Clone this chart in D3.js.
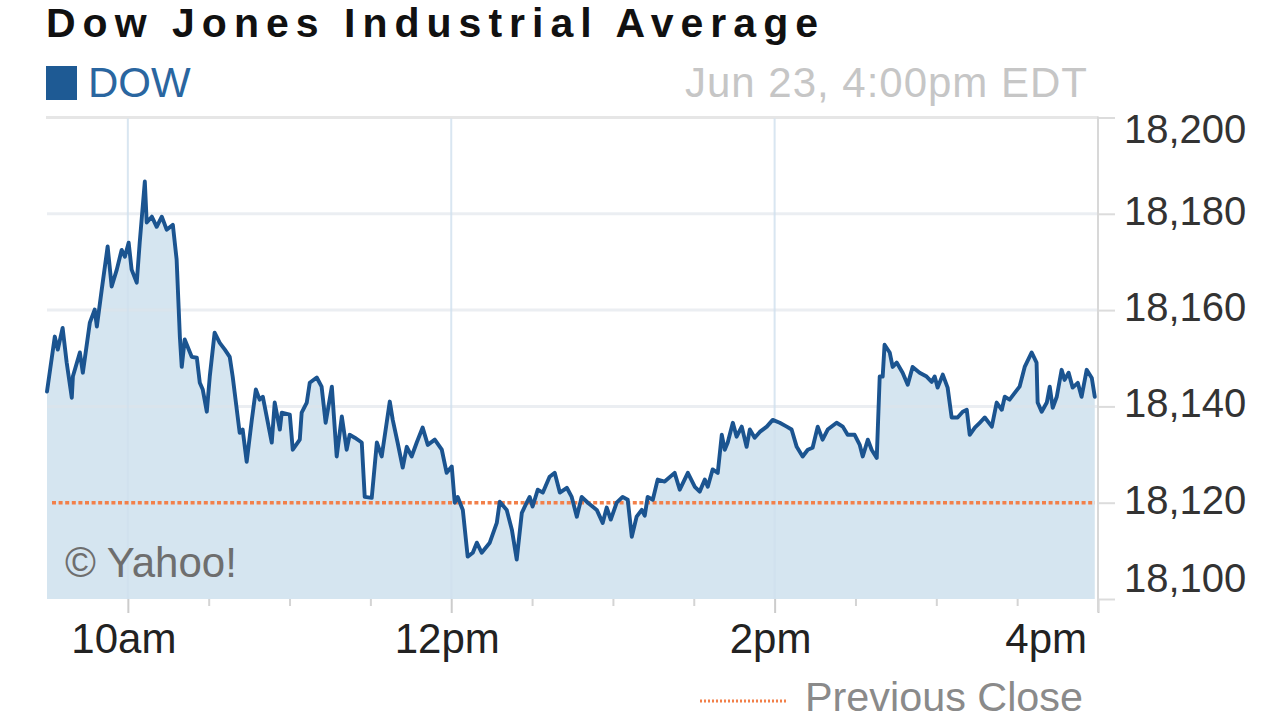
<!DOCTYPE html>
<html><head><meta charset="utf-8">
<script src="https://cdn.jsdelivr.net/npm/d3@7"></script>
<style>
html,body{margin:0;padding:0;background:#fff;}
svg{display:block;font-family:"Liberation Sans",Arial,Helvetica,sans-serif;}
</style>
</head><body>
<svg id="chart" width="1280" height="720"></svg>
<script>
// ---- Data ----
const minutesAfterOpen = [
  0,2.9,4.0,5.8,7.3,9.2,9.6,12.2,13.3,15.9,17.7,18.5,20.3,22.5,24.0,25.9,27.7,28.9,30.3,31.4,33.3,34.4,
  36.3,37.0,38.9,40.7,42.6,44.4,46.7,48.1,49.3,50.0,51.1,53.7,55.6,56.7,57.8,59.3,60.4,62.2,64.1,66.0,
  67.8,68.9,71.5,72.6,74.1,76.0,77.5,78.9,80.1,83.4,84.5,86.4,87.1,90.1,91.2,93.8,94.5,96.4,97.5,100.1,
  101.9,103.4,105.7,107.5,109.4,111.2,112.3,114.2,116.8,117.9,120.5,122.4,124.2,127.2,128.3,130.1,132.0,
  133.5,135.3,137.2,139.4,141.3,143.9,146.5,148.3,150.2,151.3,152.4,154.3,156.1,158.0,159.5,161.3,164.3,
  166.9,168.0,170.6,172.5,174.3,176.2,178.0,179.1,180.2,182.1,184.0,186.5,188.4,190.3,192.9,194.7,196.6,
  198.4,200.7,204.0,206.2,207.7,209.2,211.4,213.6,215.5,217.0,218.8,220.7,221.8,222.9,224.8,226.6,229.2,
  232.9,234.8,237.8,240.4,242.2,244.1,245.2,247.0,248.9,250.4,251.5,252.6,254.5,255.9,257.8,259.6,260.8,
  262.6,264.5,267.1,269.3,271.9,274.5,276.3,278.2,280.4,282.3,284.1,286.0,287.8,289.7,293.0,295.3,297.1,
  299.7,301.6,302.7,304.6,306.0,307.9,309.0,310.1,310.8,312.7,313.8,315.3,317.5,319.4,321.2,323.8,326.4,
  328.3,329.4,330.5,332.4,334.2,335.7,337.9,339.8,341.3,342.4,344.3,346.1,348.0,350.6,352.4,354.3,355.4,
  357.2,359.1,360.9,362.8,365.4,367.2,367.6,369.1,371.0,372.1,373.2,374.7,376.5,377.6,379.1,380.6,382.5,
  383.9,385.8,387.7,388.8
];
const dowValues = [
  18143.1,18154.5,18151.8,18156.3,18149.1,18141.8,18146.2,18151.2,18147.0,18157.4,18160.1,18156.6,18164.2,
  18173.2,18164.9,18168.4,18172.5,18171.1,18174.0,18168.4,18165.7,18174.0,
  18186.7,18178.2,18179.4,18177.3,18179.4,18176.7,18177.7,18170.5,18154.5,18148.2,18153.9,18150.3,18150.1,
  18144.9,18143.5,18138.9,18146.2,18155.3,18153.2,18151.8,
  18150.3,18146.2,18134.5,18135.2,18128.5,18137.2,18143.5,18141.4,18142.0,18132.5,18140.8,18135.2,18138.7,
  18138.3,18131.0,18133.1,18138.7,18140.8,18144.9,18146.0,
  18144.1,18136.6,18144.1,18129.6,18137.9,18131.0,18134.1,18133.5,18132.5,18121.2,18121.0,18132.5,18129.6,
  18141.0,18137.2,18132.5,18127.3,
  18131.6,18129.6,18132.5,18135.6,18132.0,18133.1,18131.0,18126.2,18127.5,18120.0,18121.2,18118.5,18108.8,
  18109.6,18111.7,18109.6,18111.7,
  18115.8,18120.2,18118.5,18114.4,18108.2,18117.9,18120.0,18121.2,18119.2,18122.7,18122.1,18125.4,18126.2,
  18122.1,18123.1,18121.2,18117.1,
  18121.2,18120.0,18118.5,18115.8,18119.0,18116.5,18120.0,18121.2,18120.6,18112.9,18117.1,18118.5,18117.3,
  18121.2,18120.6,18124.8,18124.4,
  18126.2,18122.7,18126.2,18123.3,18122.3,18124.8,18123.3,18126.9,18126.2,18134.1,18131.0,18132.5,18136.6,
  18133.7,18135.8,18131.6,18135.2,
  18133.5,18134.7,18135.8,18137.2,18136.6,18135.8,18135.2,18131.6,18129.6,18131.0,18131.4,18135.8,18133.1,
  18135.2,18136.6,18135.8,18134.1,
  18134.1,18132.0,18129.6,18133.1,18131.0,18129.3,18146.2,18146.2,18152.8,18151.2,18148.2,18149.1,18147.0,
  18144.5,18148.2,18147.0,18146.2,
  18145.1,18146.2,18143.9,18146.6,18143.9,18137.7,18137.7,18138.9,18139.3,18134.1,18135.6,18136.6,18137.7,
  18135.8,18140.8,18139.3,18142.0,
  18141.4,18142.8,18144.1,18148.2,18151.2,18149.1,18140.8,18138.9,18140.8,18144.1,18139.7,18142.0,18147.6,
  18145.5,18147.0,18143.9,18144.9,
  18142.0,18147.6,18145.9,18142.0
];
const previousClose = 18120;
const yTickValues = [18100, 18120, 18140, 18160, 18180, 18200];
const xMajorHours = [10, 12, 14, 16];
const xMajorLabels = ["10am", "12pm", "2pm", "4pm"];
const xMinorHours = [10.5, 11, 11.5, 12.5, 13, 13.5, 14.5, 15, 15.5];
const titleText = "Dow Jones Industrial Average";
const seriesName = "DOW";
const dateText = "Jun 23, 4:00pm EDT";
const creditText = "\u00A9 Yahoo!";
const prevCloseLabel = "Previous Close";

// ---- Layout ----
const svg = d3.select("#chart");
const L = 47, R = 1098, T = 117.5, B = 599;
const day = (h) => new Date(2015, 5, 23, Math.floor(h), Math.round((h % 1) * 60));
const openTime = day(9.5);
const tOf = (m) => new Date(openTime.getTime() + m * 60000);

const x = d3.scaleTime().domain([day(9.5), day(16)]).range([L, R]);
const y = d3.scaleLinear().domain([18100, 18200]).range([B, T]);

const data = minutesAfterOpen.map((m, i) => ({ t: tOf(m), v: dowValues[i] }));

svg.append("rect").attr("width", 1280).attr("height", 720).attr("fill", "#fff");

// Title
svg.append("text").attr("x", 46).attr("y", 37)
  .attr("font-size", 41).attr("font-weight", "bold").attr("fill", "#111")
  .attr("textLength", 772).attr("lengthAdjust", "spacing")
  .text(titleText);

// Series legend
svg.append("rect").attr("x", 46).attr("y", 66).attr("width", 31).attr("height", 34).attr("fill", "#1e5a94");
svg.append("text").attr("x", 88).attr("y", 97).attr("font-size", 42).attr("fill", "#2a66a0")
  .text(seriesName);

// Date
svg.append("text").attr("x", 1087).attr("y", 97).attr("font-size", 42).attr("fill", "#c6c6c6")
  .attr("text-anchor", "end").attr("textLength", 402).attr("lengthAdjust", "spacing")
  .text(dateText);

// Top border of plot
svg.append("line").attr("x1", L - 1).attr("x2", R).attr("y1", T).attr("y2", T)
  .attr("stroke", "#e6e6e6").attr("stroke-width", 3);

// Area fill
const area = d3.area().x(d => x(d.t)).y0(B).y1(d => y(d.v));
svg.append("path").datum(data).attr("d", area).attr("fill", "#d5e5f0");

// Horizontal gridlines
svg.append("g").selectAll("line").data(yTickValues.filter(v => v > 18100 && v < 18200 && v !== previousClose))
  .join("line")
  .attr("x1", L).attr("x2", R).attr("y1", d => y(d)).attr("y2", d => y(d))
  .attr("stroke", "#dde3ea").attr("stroke-opacity", 0.6).attr("stroke-width", 3);

// Vertical gridlines
svg.append("g").selectAll("line").data(xMajorHours.filter(h => h < 16))
  .join("line")
  .attr("x1", d => x(day(d))).attr("x2", d => x(day(d))).attr("y1", T + 1).attr("y2", B)
  .attr("stroke", "#cfe0ee").attr("stroke-opacity", 0.8).attr("stroke-width", 2);

// Previous close
svg.append("line").attr("x1", 52).attr("x2", 1095)
  .attr("y1", y(previousClose)).attr("y2", y(previousClose))
  .attr("stroke", "#f2804a").attr("stroke-width", 3.5).attr("stroke-dasharray", "4 2.6");

// Line
const line = d3.line().x(d => x(d.t)).y(d => y(d.v));
svg.append("path").datum(data).attr("d", line)
  .attr("fill", "none").attr("stroke", "#1b5490").attr("stroke-width", 3.9)
  .attr("stroke-linejoin", "round").attr("stroke-linecap", "round");

// Credit
svg.append("text").attr("x", 65).attr("y", 577).attr("font-size", 42).attr("fill", "#6e6e6e")
  .text(creditText);

// X axis ticks
const xMajorAxis = d3.axisBottom(x).tickValues(xMajorHours.map(day)).tickSize(14).tickFormat("");
const gxMaj = svg.append("g").attr("transform", `translate(0,${B})`).call(xMajorAxis);
gxMaj.select(".domain").remove();
gxMaj.selectAll(".tick line").attr("stroke", "#cccccc").attr("stroke-width", 2);

const xMinorAxis = d3.axisBottom(x).tickValues(xMinorHours.map(day)).tickSize(7).tickFormat("");
const gxMin = svg.append("g").attr("transform", `translate(0,${B})`).call(xMinorAxis);
gxMin.select(".domain").remove();
gxMin.selectAll(".tick line").attr("stroke", "#d4d4d4").attr("stroke-width", 2);

// X labels
svg.append("g").selectAll("text").data(xMajorHours)
  .join("text")
  .attr("x", (d, i) => i === xMajorHours.length - 1 ? 1087 : x(day(d)) - 4)
  .attr("y", 653)
  .attr("text-anchor", (d, i) => i === xMajorHours.length - 1 ? "end" : "middle")
  .attr("font-size", 42).attr("fill", "#222")
  .text((d, i) => xMajorLabels[i]);

// Y axis (right)
const yAxis = d3.axisRight(y).tickValues(yTickValues).tickSize(17).tickFormat("");
const gy = svg.append("g").attr("transform", `translate(${R},0)`).call(yAxis);
gy.select(".domain").remove();
gy.selectAll(".tick line").attr("stroke", "#dcdcdc").attr("stroke-width", 2);
svg.append("line").attr("x1", R).attr("x2", R).attr("y1", T - 1).attr("y2", 612)
  .attr("stroke", "#d8d8d8").attr("stroke-width", 2);

const fmt = d3.format(",");
svg.append("g").selectAll("text").data(yTickValues)
  .join("text")
  .attr("x", 1124)
  .attr("y", d => Math.max(143, Math.min(592, y(d) + 11)))
  .attr("font-size", 40).attr("fill", "#333")
  .text(d => fmt(d));

// Previous close legend
svg.append("line").attr("x1", 700).attr("x2", 787).attr("y1", 701).attr("y2", 701)
  .attr("stroke", "#f2804a").attr("stroke-width", 3).attr("stroke-dasharray", "2 2");
svg.append("text").attr("x", 805).attr("y", 711).attr("font-size", 40).attr("fill", "#8a8a8a")
  .attr("textLength", 278).attr("lengthAdjust", "spacingAndGlyphs")
  .text(prevCloseLabel);
</script>
</body></html>
